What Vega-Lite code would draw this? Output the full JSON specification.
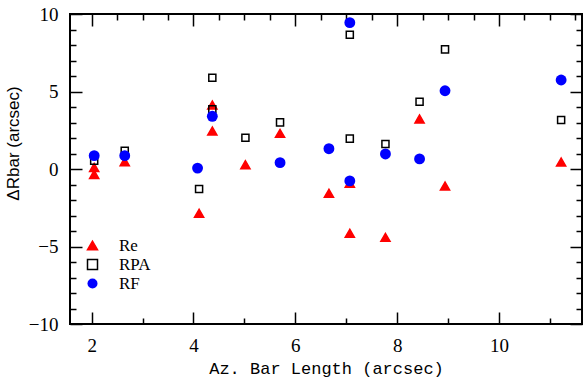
{
  "$schema": "https://vega.github.io/schema/vega-lite/v6.json",
  "width": 512,
  "height": 310,
  "autosize": {"type": "none"},
  "padding": {"left": 70, "top": 14, "right": 1, "bottom": 59},
  "background": "white",
  "config": {
    "view": {"stroke": "black", "strokeWidth": 2},
    "axis": {
      "domain": false,
      "grid": false,
      "tickColor": "black",
      "tickWidth": 1.5,
      "labelColor": "black",
      "titleColor": "black",
      "labelFont": "Liberation Serif",
      "labelFontSize": 19,
      "labelOverlap": false,
      "labelFlush": false
    }
  },
  "datasets": {
    "pts": [
      {"x": 2.05, "y": 0.1, "series": "Re"},
      {"x": 2.05, "y": -0.35, "series": "Re"},
      {"x": 2.65, "y": 0.47, "series": "Re"},
      {"x": 4.11, "y": -2.86, "series": "Re"},
      {"x": 4.37, "y": 4.13, "series": "Re"},
      {"x": 4.37, "y": 2.45, "series": "Re"},
      {"x": 5.02, "y": 0.28, "series": "Re"},
      {"x": 5.7, "y": 2.3, "series": "Re"},
      {"x": 6.66, "y": -1.57, "series": "Re"},
      {"x": 7.07, "y": -0.92, "series": "Re"},
      {"x": 7.07, "y": -4.15, "series": "Re"},
      {"x": 7.77, "y": -4.41, "series": "Re"},
      {"x": 8.44, "y": 3.23, "series": "Re"},
      {"x": 8.94, "y": -1.1, "series": "Re"},
      {"x": 11.22, "y": 0.45, "series": "Re"},
      {"x": 2.05, "y": 0.54, "series": "RPA"},
      {"x": 2.65, "y": 1.18, "series": "RPA"},
      {"x": 4.11, "y": -1.29, "series": "RPA"},
      {"x": 4.37, "y": 5.89, "series": "RPA"},
      {"x": 4.37, "y": 3.85, "series": "RPA"},
      {"x": 5.02, "y": 2.02, "series": "RPA"},
      {"x": 5.7, "y": 3.01, "series": "RPA"},
      {"x": 7.07, "y": 8.66, "series": "RPA"},
      {"x": 7.07, "y": 1.96, "series": "RPA"},
      {"x": 7.77, "y": 1.61, "series": "RPA"},
      {"x": 8.44, "y": 4.34, "series": "RPA"},
      {"x": 8.94, "y": 7.72, "series": "RPA"},
      {"x": 11.22, "y": 3.16, "series": "RPA"},
      {"x": 2.05, "y": 0.86, "series": "RF"},
      {"x": 2.65, "y": 0.86, "series": "RF"},
      {"x": 4.08, "y": 0.06, "series": "RF"},
      {"x": 4.37, "y": 3.4, "series": "RF"},
      {"x": 5.7, "y": 0.41, "series": "RF"},
      {"x": 6.66, "y": 1.31, "series": "RF"},
      {"x": 7.07, "y": 9.44, "series": "RF"},
      {"x": 7.07, "y": -0.77, "series": "RF"},
      {"x": 7.77, "y": 0.97, "series": "RF"},
      {"x": 8.44, "y": 0.65, "series": "RF"},
      {"x": 8.94, "y": 5.05, "series": "RF"},
      {"x": 11.22, "y": 5.74, "series": "RF"}
    ]
  },
  "layer": [
    {
      "mark": {"type": "rule", "strokeDash": [20, 7], "color": "#222222", "strokeWidth": 2},
      "encoding": {
        "y": {"datum": 0, "type": "quantitative", "scale": {"domain": [-10, 10], "nice": false, "zero": false}, "axis": null}
      }
    },
    {
      "data": {"name": "pts"},
      "mark": {"type": "point", "strokeWidth": 1.5, "opacity": 1},
      "encoding": {
        "x": {
          "field": "x", "type": "quantitative",
          "scale": {"domain": [1.575, 11.63], "nice": false, "zero": false},
          "axis": {
            "orient": "bottom",
            "values": [2, 2.5, 3, 3.5, 4, 4.5, 5, 5.5, 6, 6.5, 7, 7.5, 8, 8.5, 9, 9.5, 10, 10.5, 11, 11.5],
            "format": "d",
            "tickSize": {"condition": {"test": "datum.value % 2 === 0", "value": -12}, "value": -6},
            "labelExpr": "datum.value % 2 === 0 ? datum.label : ''",
            "labelPadding": 24,
            "title": "Az. Bar Length (arcsec)",
            "titleFont": "Liberation Mono",
            "titleFontSize": 17,
            "titleFontWeight": "normal",
            "titlePadding": -1
          }
        },
        "y": {
          "field": "y", "type": "quantitative",
          "scale": {"domain": [-10, 10], "nice": false, "zero": false},
          "axis": {
            "orient": "left",
            "values": [-10, -9, -8, -7, -6, -5, -4, -3, -2, -1, 0, 1, 2, 3, 4, 5, 6, 7, 8, 9, 10],
            "tickSize": {"condition": {"test": "datum.value % 5 === 0", "value": -12}, "value": -6},
            "labelExpr": "datum.value % 5 === 0 ? datum.label : ''",
            "labelPadding": 24,
            "title": "ΔRbar (arcsec)",
            "titleFont": "Liberation Sans",
            "titleFontSize": 17,
            "titleFontWeight": "normal",
            "titleX": -48,
            "titleY": 129
          }
        },
        "shape": {
          "field": "series", "type": "nominal",
          "scale": {"domain": ["Re", "RPA", "RF"], "range": ["triangle-up", "square", "circle"]},
          "legend": {
            "title": null,
            "orient": "none",
            "legendX": 14,
            "legendY": 223,
            "values": ["Re", "RPA", "RF"],
            "padding": 0,
            "rowPadding": 1,
            "labelOffset": 18,
            "labelFont": "Liberation Serif",
            "labelFontSize": 17,
            "labelColor": "black",
            "symbolStrokeWidth": 1.5,
            "symbolOpacity": 1
          }
        },
        "fill": {
          "field": "series", "type": "nominal",
          "scale": {"domain": ["Re", "RPA", "RF"], "range": ["#ff0000", "transparent", "#0000ff"]}
        },
        "stroke": {
          "field": "series", "type": "nominal",
          "scale": {"domain": ["Re", "RPA", "RF"], "range": ["#ff0000", "#000000", "transparent"]}
        },
        "size": {
          "field": "series", "type": "nominal",
          "scale": {"domain": ["RPA", "Re", "RF"], "range": [50, 118]}
        }
      }
    },
    {
      "data": {"name": "pts"},
      "mark": {"type": "point", "opacity": 0},
      "encoding": {
        "x": {
          "field": "x", "type": "quantitative",
          "scale": {"domain": [1.575, 11.63], "nice": false, "zero": false},
          "axis": {
            "orient": "top",
            "values": [2, 2.5, 3, 3.5, 4, 4.5, 5, 5.5, 6, 6.5, 7, 7.5, 8, 8.5, 9, 9.5, 10, 10.5, 11, 11.5],
            "tickSize": {"condition": {"test": "datum.value % 2 === 0", "value": -12}, "value": -6},
            "labels": false,
            "title": null
          }
        },
        "y": {
          "field": "y", "type": "quantitative",
          "scale": {"domain": [-10, 10], "nice": false, "zero": false},
          "axis": {
            "orient": "right",
            "values": [-10, -9, -8, -7, -6, -5, -4, -3, -2, -1, 0, 1, 2, 3, 4, 5, 6, 7, 8, 9, 10],
            "tickSize": {"condition": {"test": "datum.value % 5 === 0", "value": -12}, "value": -6},
            "labels": false,
            "title": null
          }
        }
      }
    }
  ],
  "resolve": {"axis": {"x": "independent", "y": "independent"}}
}
